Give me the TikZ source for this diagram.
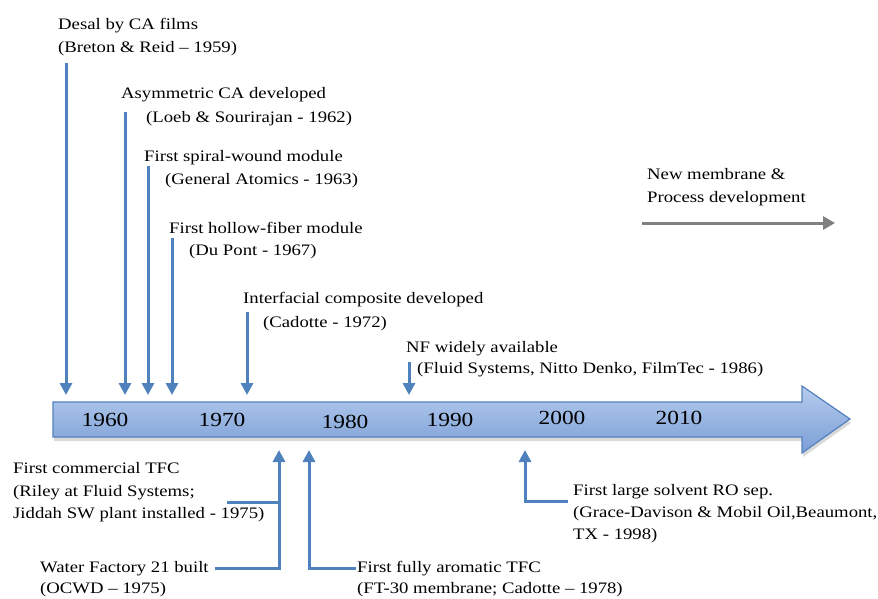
\documentclass[tikz,border=0pt]{standalone}
\usepackage{fontspec}
\setmainfont[FakeStretch=1.17]{Liberation Serif}
\usetikzlibrary{arrows.meta,shadows}

\definecolor{evblue}{RGB}{79,129,189}
\definecolor{bartop}{RGB}{182,204,238}
\definecolor{barbot}{RGB}{122,158,214}
\definecolor{bardraw}{RGB}{84,130,190}
\definecolor{evgray}{RGB}{128,128,128}

\tikzset{
    lbl/.style={anchor=base west, inner sep=0pt, font=\fontsize{16}{20}\selectfont},
    yr/.style={inner sep=0pt, font=\fontsize{20}{24}\selectfont},
    evarrow/.style={draw=evblue, line width=3pt, -{Triangle[width=12pt,length=12pt]}},
    evline/.style={draw=evblue, line width=3pt},
    grayarrow/.style={draw=evgray, line width=3pt, -{Triangle[width=13pt,length=12pt]}}
}

\begin{document}
\begin{tikzpicture}[x=1pt, y=-1pt]
    \useasboundingbox (0,0) rectangle (878,598);

    % timeline bar
    \path[draw=bardraw, line width=1.2pt, top color=bartop, bottom color=barbot,
          drop shadow={opacity=0.3, shadow xshift=1pt, shadow yshift=-4pt}]
        (53,402) -- (802,402) -- (802,386) -- (850,419) -- (802,453)
        -- (802,437) -- (53,437) -- cycle;

    \node[yr] (y1960) at (105,420) {1960};
    \node[yr] (y1970) at (222,420) {1970};
    \node[yr] (y1980) at (345,422) {1980};
    \node[yr] (y1990) at (450,420) {1990};
    \node[yr] (y2000) at (562,418) {2000};
    \node[yr] (y2010) at (679,418) {2010};

    % arrow ends on the bar
    \coordinate (t59) at (66,395);
    \coordinate (t62) at (125,395);
    \coordinate (t63) at (148,395);
    \coordinate (t67) at (172,395);
    \coordinate (t72) at (247,395);
    \coordinate (t86) at (409,395);
    \coordinate (t75) at (279,450);
    \coordinate (t78) at (309,450);
    \coordinate (t98) at (525,450);
    \coordinate (tfcjoin) at (227,502);
    \coordinate (g1) at (642,223);
    \coordinate (g2) at (835,223);

    % events above
    \node[lbl] (desal)     at (58,29)   {Desal by CA films};
    \node[lbl] (desalsrc)  at (58,52)   {(Breton \& Reid -- 1959)};
    \node[lbl] (asym)      at (121,98)  {Asymmetric CA developed};
    \node[lbl] (asymsrc)   at (146,122) {(Loeb \& Sourirajan - 1962)};
    \node[lbl] (spiral)    at (144,161) {First spiral-wound module};
    \node[lbl] (spiralsrc) at (165,184) {(General Atomics - 1963)};
    \node[lbl] (hollow)    at (169,233) {First hollow-fiber module};
    \node[lbl] (hollowsrc) at (189,255) {(Du Pont - 1967)};
    \node[lbl] (inter)     at (243,303) {Interfacial composite developed};
    \node[lbl] (intersrc)  at (263,327) {(Cadotte - 1972)};
    \node[lbl] (nf)        at (406,352) {NF widely available};
    \node[lbl] (nfsrc)     at (417,373) {(Fluid Systems, Nitto Denko, FilmTec - 1986)};
    \node[lbl] (newmem)    at (647,179) {New membrane \&};
    \node[lbl] (procdev)   at (647,202) {Process development};

    % events below
    \node[lbl] (tfc)       at (13,473)  {First commercial TFC};
    \node[lbl] (riley)     at (13,496)  {(Riley at Fluid Systems;};
    \node[lbl] (jiddah)    at (13,518)  {Jiddah SW plant installed - 1975)};
    \node[lbl] (wf)        at (40,572)  {Water Factory 21 built};
    \node[lbl] (ocwd)      at (40,593)  {(OCWD -- 1975)};
    \node[lbl] (arom)      at (357,572) {First fully aromatic TFC};
    \node[lbl] (aromsrc)   at (357,593) {(FT-30 membrane; Cadotte -- 1978)};
    \node[lbl] (solvent)   at (573,495) {First large solvent RO sep.};
    \node[lbl] (solvsrc)   at (573,517) {(Grace-Davison \& Mobil Oil,Beaumont,};
    \node[lbl] (solvtx)    at (573,539) {TX - 1998)};

    \draw[evarrow] ([yshift=-11pt]t59 |- desalsrc.base) -- (t59);
    \draw[evarrow] ([yshift=-14pt]t62 |- asym.base) -- (t62);
    \draw[evarrow] ([yshift=-5pt]t63 |- spiral.base) -- (t63);
    \draw[evarrow] ([yshift=-5pt]t67 |- hollow.base) -- (t67);
    \draw[evarrow] ([yshift=-9pt]t72 |- inter.base) -- (t72);
    \draw[evarrow] ([yshift=-10pt]t86 |- nf.base) -- (t86);

    \draw[evarrow] ([xshift=6pt]wf.east) -| (t75);
    \draw[evline] (tfcjoin) -- (tfcjoin -| t75);
    \draw[evarrow] ([xshift=-1pt]arom.west) -| (t78);
    \draw[evarrow] ([xshift=-5pt,yshift=-6pt]solvent.base west) -| (t98);

    \draw[grayarrow] (g1) -- (g2);
\end{tikzpicture}
\end{document}
